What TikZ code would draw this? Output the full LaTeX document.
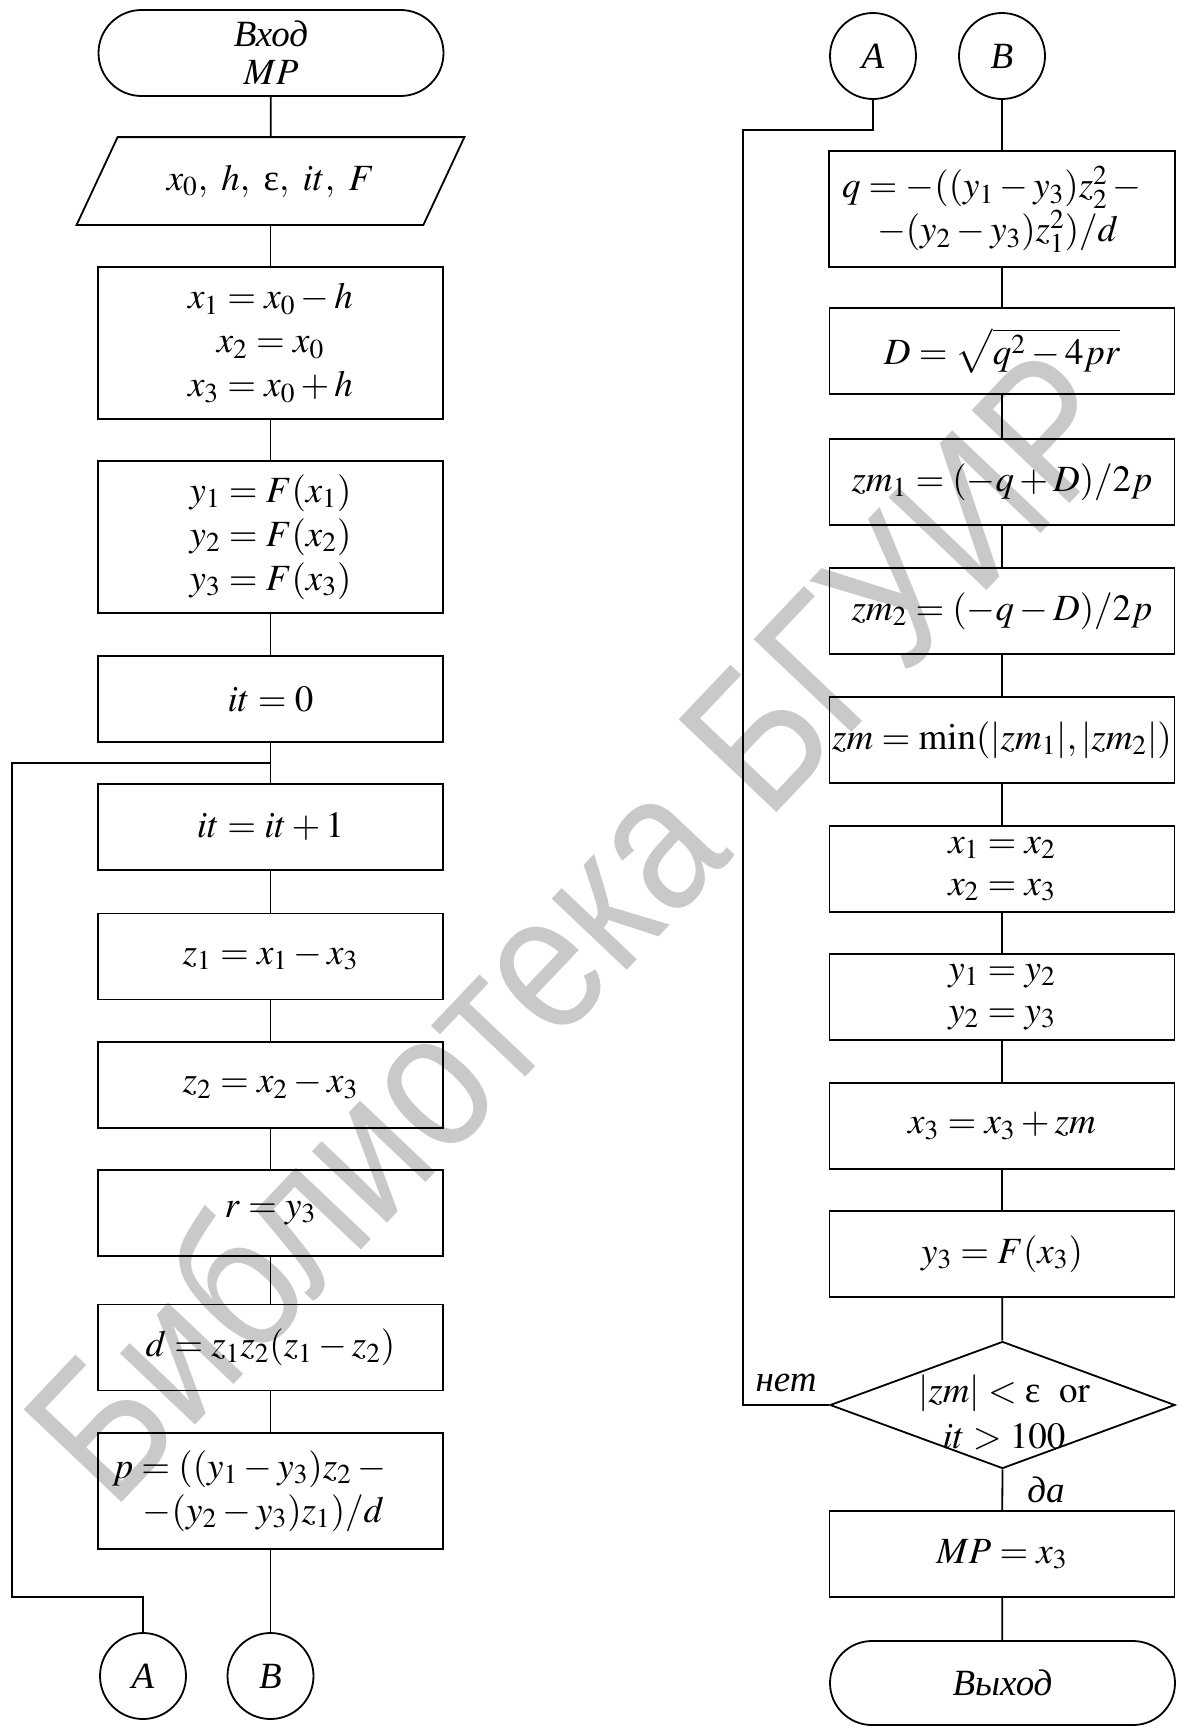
\documentclass[tikz,border=0pt]{standalone}
\usepackage{mathptmx}
\usepackage{fontspec}
\setmainfont{Liberation Serif}
\newfontfamily\wmfont{Liberation Sans}
\usetikzlibrary{shapes.geometric,shapes.misc,calc}
\begin{document}
\begin{tikzpicture}[x=0.5pt,y=-0.5pt,line width=0.9pt,
  every node/.style={font=\fontsize{18.5}{22}\selectfont},
  box/.style={draw,rectangle,minimum width=172.5pt,minimum height=43pt,inner sep=0pt,align=center},
  tbox/.style={box,minimum height=58pt},
  hbox/.style={box,minimum height=76pt},
  term/.style={draw,rounded rectangle,minimum width=172.5pt,minimum height=43pt,inner sep=0pt,align=center},
  conn/.style={draw,circle,minimum size=43pt,inner sep=0pt,font=\fontsize{18.5}{22}\selectfont\itshape},
  lbl/.style={font=\fontsize{18.5}{22}\selectfont\itshape},
  wm/.style={text=black!21,font=\wmfont\fontsize{98}{98}\selectfont}]
\useasboundingbox (0,0) rectangle (1183,1726);

% watermark
\node[wm,rotate=46.5] (wmark) at (573,924) {\scalebox{0.85}[1]{Библиотека БГУИР}};

% ---------- left column ----------
\node[term,font=\fontsize{18.5}{19}\selectfont] (start) at (271,53) {\itshape Вход\\$MP$};
\node[rectangle,minimum width=172.5pt,minimum height=43pt,inner sep=0pt] (in) at (270.5,181) {$x_0,\ h,\ \mbox{ε},\ it,\ F$};
\draw ($(in.north west)+(20.5,0)$) -- ($(in.north east)+(20.5,0)$) -- ($(in.south east)+(-20.5,0)$) -- ($(in.south west)+(-20.5,0)$) -- cycle;
\node[hbox] (b1) at (270.5,343) {$x_1 = x_0 - h$\\$x_2 = x_0$\\$x_3 = x_0 + h$};
\node[hbox] (b2) at (270.5,537) {$y_1 = F(x_1)$\\$y_2 = F(x_2)$\\$y_3 = F(x_3)$};
\node[box] (it0) at (270.5,699) {$it = 0$};
\coordinate (j) at (270.5,763);
\node[box] (it1) at (270.5,827) {$it = it + 1$};
\node[box] (z1) at (270.5,956.5) {$z_1 = x_1 - x_3$};
\node[box] (z2) at (270.5,1085) {$z_2 = x_2 - x_3$};
\node[box] (r) at (270.5,1213) {$r = y_3$};
\node[box] (d) at (270.5,1347.5) {$d = z_1 z_2 (z_1 - z_2)$};
\node[tbox,text width=158.5pt,inner xsep=7pt,align=left] (p) at (270.5,1491) {$p = ((y_1 - y_3)z_2 -{}$\\\hspace*{15.5pt}$-(y_2 - y_3)z_1)/d$};
\node[conn] (cA) at (143,1676) {A};
\node[conn] (cB) at (270.5,1676) {B};
\coordinate (lb1) at (12,763);
\coordinate (lb2) at (12,1597);

\draw (start) -- (in);
\draw (in) -- (b1);
\draw (b1) -- (b2);
\draw (b2) -- (it0);
\draw (it0) -- (it1);
\draw (it1) -- (z1);
\draw (z1) -- (z2);
\draw (z2) -- (r);
\draw (r) -- (d);
\draw (d) -- (p);
\draw (p) -- (cB);
\draw (j) -- (lb1) -- (lb2) -| (cA.north);

% ---------- right column ----------
\node[conn] (rA) at (873,56) {A};
\node[conn] (rB) at (1002,56) {B};
\node[tbox,text width=160pt,inner xsep=6.5pt,align=left] (q) at (1002,209) {$q = -((y_1 - y_3)z_2^2 -{}$\\\hspace*{17.5pt}$-(y_2 - y_3)z_1^2)/d$};
\node[box] (D) at (1002,351) {$D = \sqrt{q^2 - 4pr}$};
\node[box] (zm1) at (1002,482) {$zm_1 = (-q + D)/2p$};
\node[box] (zm2) at (1002,611) {$zm_2 = (-q - D)/2p$};
\node[box] (zm) at (1002,740) {$zm = \min(|zm_1|,|zm_2|)$};
\node[box,font=\fontsize{18.5}{21}\selectfont] (xs) at (1002,869) {$x_1 = x_2$\\$x_2 = x_3$};
\node[box,font=\fontsize{18.5}{21}\selectfont] (ys) at (1002,997) {$y_1 = y_2$\\$y_2 = y_3$};
\node[box] (x3) at (1002,1126) {$x_3 = x_3 + zm$};
\node[box] (y3) at (1002,1254) {$y_3 = F(x_3)$};
\node[draw,diamond,minimum width=172.5pt,minimum height=63.5pt,inner sep=0pt] (cond) at (1002.5,1405) {};
\node[align=center,inner sep=0pt,font=\fontsize{18.5}{23}\selectfont] (condt) at (1004,1412) {$|zm| < \mbox{ε}\ \ \mathrm{or}$\\$it > 100$};
\node[box] (mp) at (1002,1554) {$MP = x_3$};
\node[term,minimum height=42pt] (exit) at (1002.5,1683) {\itshape Выход};
\node[lbl] (no) at (786,1383) {нет};
\node[lbl] (yes) at (1046,1490) {да};
\coordinate (ra) at (743,130);

\draw (rB) -- (q);
\draw (q) -- (D);
\draw (D) -- (zm1);
\draw (zm1) -- (zm2);
\draw (zm2) -- (zm);
\draw (zm) -- (xs);
\draw (xs) -- (ys);
\draw (ys) -- (x3);
\draw (x3) -- (y3);
\draw (y3) -- (cond);
\draw (cond.south) -- (mp);
\draw (mp) -- (exit);
\draw (rA.south) |- (ra) -- (ra |- cond.west) -- (cond.west);
\end{tikzpicture}
\end{document}
